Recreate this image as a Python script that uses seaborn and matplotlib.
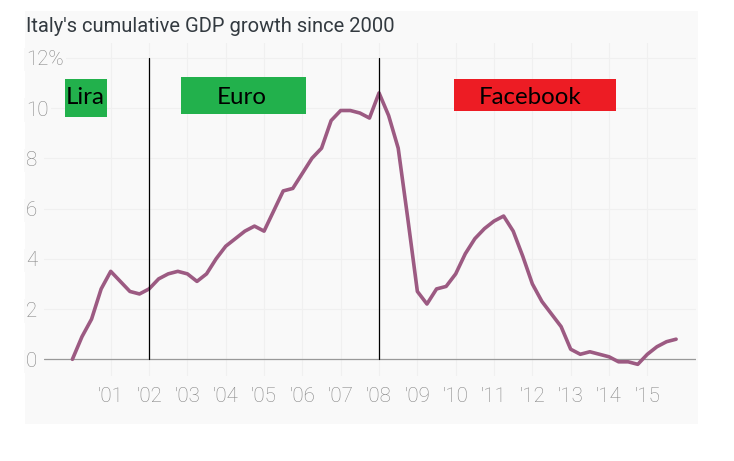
import matplotlib
matplotlib.use("Agg")
import matplotlib.pyplot as plt
from matplotlib.patches import Rectangle
import numpy as np
import pandas as pd
import seaborn as sns

W, H = 734, 461

# quarterly values
start_year = 2000
growth = [0, 0.9, 1.6, 2.8,
          3.5, 3.1, 2.7, 2.6,
          2.8, 3.2, 3.4, 3.5,
          3.4, 3.1, 3.4, 4.0,
          4.5, 4.8, 5.1, 5.3,
          5.1, 5.9, 6.7, 6.8,
          7.4, 8.0, 8.4, 9.5,
          9.9, 9.9, 9.8, 9.6,
          10.6, 9.7, 8.4, 5.6,
          2.7, 2.2, 2.8, 2.9,
          3.4, 4.2, 4.8, 5.2,
          5.5, 5.7, 5.1, 4.1,
          3.0, 2.3, 1.8, 1.3,
          0.4, 0.2, 0.3, 0.2,
          0.1, -0.1, -0.1, -0.2,
          0.2, 0.5, 0.7, 0.8]
x_ticks = list(range(2001, 2016))
x_labels = ["'01", "'02", "'03", "'04", "'05", "'06", "'07", "'08",
            "'09", "'10", "'11", "'12", "'13", "'14", "'15"]
y_ticks = [0, 2, 4, 6, 8, 10, 12]
y_labels = ["0", "2", "4", "6", "8", "10", "12%"]
split_years = [2002, 2008]
title = "Italy's cumulative GDP growth since 2000"

# label, box left, top, right, bottom in pixels, text centre x, y, colour
boxes = [("Lira", 65, 79, 107, 117, 85, 98, "#22b14c"),
         ("Euro", 181, 77, 306, 114, 242, 97, "#22b14c"),
         ("Facebook", 454, 79, 616, 111, 530, 97, "#ed1c24")]

panel_color = "#f9f9f9"
line_color = "#9c5a82"
label_color = "#858585"

sns.set_style("white")
plt.rcParams["font.family"] = ["Roboto", "DejaVu Sans"]

df = pd.DataFrame({"year": start_year + np.arange(len(growth)) * 0.25, "growth": growth})

fig = plt.figure(figsize=(W / 100, H / 100), dpi=100)
fig.patch.set_facecolor("white")


def box(left, top, right, bottom, **kw):
    fig.add_artist(Rectangle((left / W, 1 - bottom / H), (right - left) / W, (bottom - top) / H,
                             transform=fig.transFigure, linewidth=0, **kw))


# pale panel behind everything
box(25, 11, 698, 424, facecolor=panel_color, zorder=-5)

# axes run from the start of the grid to its end
ax_left, ax_right, ax_top, ax_bottom = 44, 696, 43, 376
ax = fig.add_axes([ax_left / W, 1 - ax_bottom / H, (ax_right - ax_left) / W, (ax_bottom - ax_top) / H])
ax.patch.set_alpha(0)

px_year, x0 = 38.33, 72.4
ax.set_xlim(start_year + (ax_left - x0) / px_year, start_year + (ax_right - x0) / px_year)
px_unit, y0 = 25.13, 359.3
ax.set_ylim((y0 - ax_bottom) / px_unit, (y0 - ax_top) / px_unit)

sns.lineplot(data=df, x="year", y="growth", color=line_color, linewidth=2.6, ax=ax, zorder=3)

ax.set_xlabel("")
ax.set_ylabel("")
sns.despine(ax=ax, left=True, bottom=True, top=True, right=True)
ax.set_xticks(x_ticks, x_labels)
ax.set_yticks(y_ticks, y_labels)
ax.grid(True, color="#f0f0f0", linewidth=0.8)
ax.set_axisbelow(True)
ax.axhline(0, color="#999999", linewidth=0.9, zorder=2)

ax.tick_params(axis="x", length=0, pad=8, labelsize=14.8, labelcolor=label_color)
ax.tick_params(axis="y", length=0, pad=12, labelsize=14.8, labelcolor=label_color)
for t in ax.get_xticklabels():
    t.set_fontweight("light")
# left-align the y labels at the panel edge
offset = matplotlib.transforms.ScaledTranslation(-18 / 100, 0, fig.dpi_scale_trans)
for t in ax.get_yticklabels():
    t.set_ha("left")
    t.set_fontweight("light")
    t.set_bbox(dict(facecolor=panel_color, edgecolor="none", pad=1.5))
    t.set_transform(ax.get_yaxis_transform(which="tick1") + offset)

for yr in split_years:
    ax.plot([yr, yr], [0, 12], color="black", linewidth=0.9, zorder=4)

fig.text(26 / W, 1 - 26 / H, title, fontsize=14.47, color="#333a40", va="center", ha="left")

for label, left, top, right, bottom, cx, cy, color in boxes:
    box(left, top, right, bottom, facecolor=color, zorder=5)
    fig.text(cx / W, 1 - cy / H, label, fontsize=17.3, color="black", family=["Lato", "DejaVu Sans"],
             ha="center", va="center", zorder=6)

fig.savefig("out.png", dpi=100, facecolor="white")
